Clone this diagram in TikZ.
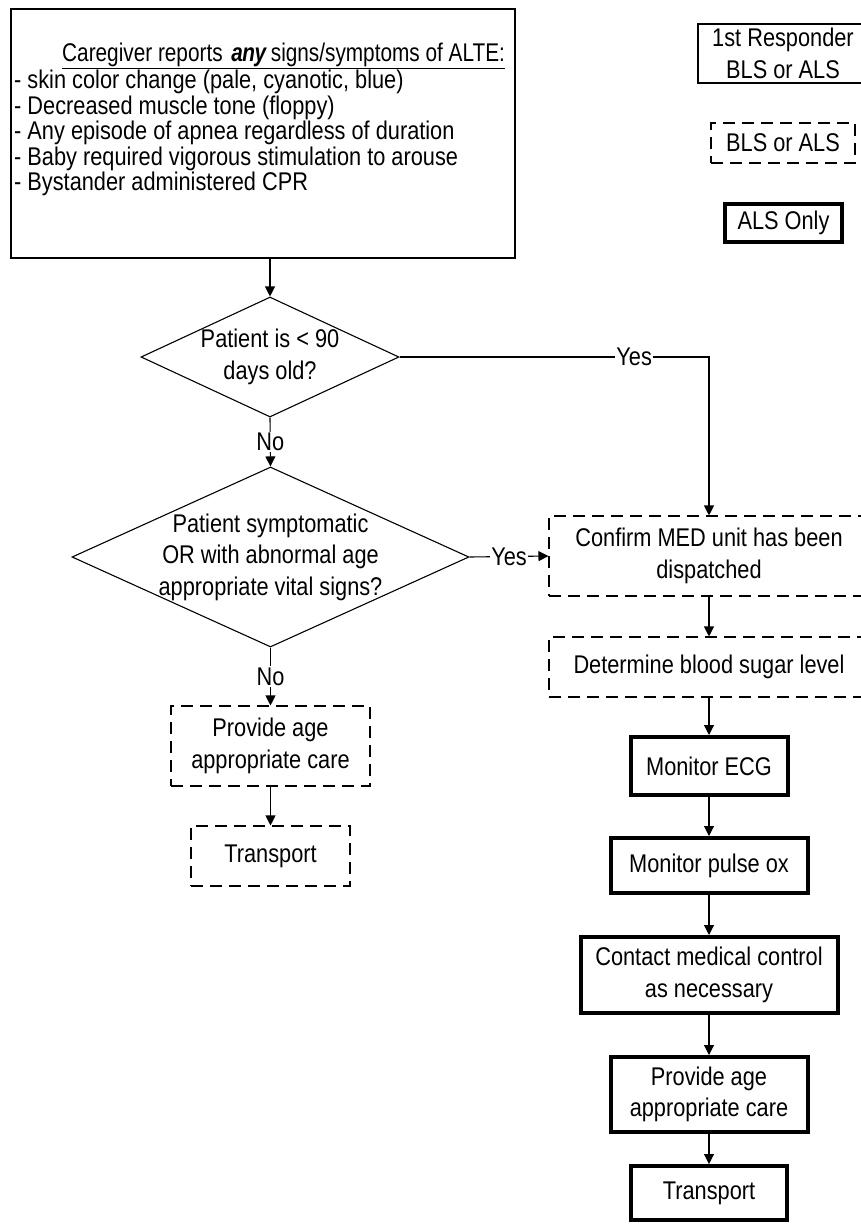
\documentclass[tikz,border=0pt]{standalone}
\usepackage{fontspec}
\usepackage{graphicx}
\setmainfont{Liberation Sans}[FakeStretch=0.85]
\usetikzlibrary{
    shapes.geometric,
    arrows.meta,
    positioning,
    calc
}

\begin{document}
\begin{tikzpicture}[
                x=1pt, y=-1pt,
                every node/.style={font=\fontsize{25.6pt}{31.5pt}\selectfont},
                box/.style={draw, line width=1.1pt, inner sep=0pt, align=center},
                dashbox/.style={box, dash pattern=on 12pt off 7pt},
                alsbox/.style={box, line width=4pt},
                decision/.style={draw, diamond, line width=1.1pt, inner sep=0pt},
                arr/.style={-{Triangle[length=10pt, width=10pt]}, line width=1.1pt},
                lbl/.style={fill=white, inner sep=1.5pt}
            ]
                \useasboundingbox (0,0) rectangle (861,1224);

                % Caregiver report
                \node[box, minimum width=504pt, minimum height=249pt] (alte) at (263,133.5) {};
                \node[anchor=north west, align=left, inner sep=0pt,
                      font=\fontsize{25.6pt}{25.5pt}\selectfont] (alteText) at (14,43)
                    {\hspace*{48pt}\scalebox{0.955}[1]{\underline{Caregiver reports\hspace{9pt}\textbf{\textit{a\kern-0.5pt n\kern-0.5pt y}}\hspace{4pt}signs/symptoms of ALTE:}}\\
                     - skin color change (pale, cyanotic, blue)\\
                     - Decreased muscle tone (floppy)\\
                     - Any episode of apnea regardless of duration\\
                     - Baby required vigorous stimulation to arouse\\
                     - Bystander administered CPR};

                % Legend
                \node[box, minimum width=170pt, minimum height=59pt] (respLeg) at (783,53.5) {1st Responder\\BLS or ALS};
                \node[dashbox, minimum width=144pt, minimum height=40pt] (blsLeg) at (783,143) {BLS or ALS};
                \node[alsbox, minimum width=117pt, minimum height=38pt] (alsLeg) at (783.5,223) {ALS Only};

                % Decisions
                \node[decision, minimum width=258pt, minimum height=120pt] (q1) at (270,357) {};
                \node[align=center] (q1Text) at (q1) {Patient is < 90\\days old?};
                \node[decision, minimum width=397pt, minimum height=180pt] (q2) at (270.5,557) {};
                \node[align=center] (q2Text) at (q2) {Patient symptomatic\\OR with abnormal age\\appropriate vital signs?};

                % Left branch
                \node[dashbox, minimum width=199pt, minimum height=80pt] (provL) at (270.5,746) {Provide age\\appropriate care};
                \node[dashbox, minimum width=159pt, minimum height=60pt] (transL) at (270.5,856) {Transport};

                % Right branch
                \node[dashbox, minimum width=320pt, minimum height=80pt] (confirm) at (709,556) {Confirm MED unit has been\\dispatched};
                \node[dashbox, minimum width=320pt, minimum height=60pt] (sugar) at (709,667) {Determine blood sugar level};
                \node[alsbox, minimum width=157pt, minimum height=58pt] (ecg) at (709,766) {Monitor ECG};
                \node[alsbox, minimum width=197pt, minimum height=55pt] (pulse) at (709,865.5) {Monitor pulse ox};
                \node[alsbox, minimum width=257pt, minimum height=76pt] (contact) at (709,975) {Contact medical control\\as necessary};
                \node[alsbox, minimum width=197pt, minimum height=75pt] (provR) at (709,1094.5) {Provide age\\appropriate care};
                \node[alsbox, minimum width=156pt, minimum height=54pt] (transR) at (709,1193) {Transport};

                \draw[arr] (alte.south -| q1.north) -- (q1.north);
                \draw[arr] (q1.south) -- node[lbl] {No} (q2.north);
                \draw[arr] (q1.east) -| node[lbl, pos=0.379] {Yes} (confirm.north);
                \draw[arr] (q2.east) -- node[lbl] {Yes} (confirm.west);
                \draw[arr] (q2.south) -- node[lbl] {No} (provL.north);
                \draw[arr] (provL) -- (transL);
                \foreach \a/\b in {confirm/sugar, sugar/ecg, ecg/pulse, pulse/contact, contact/provR, provR/transR}
                    \draw[arr] (\a) -- (\b);
            \end{tikzpicture}
\end{document}
